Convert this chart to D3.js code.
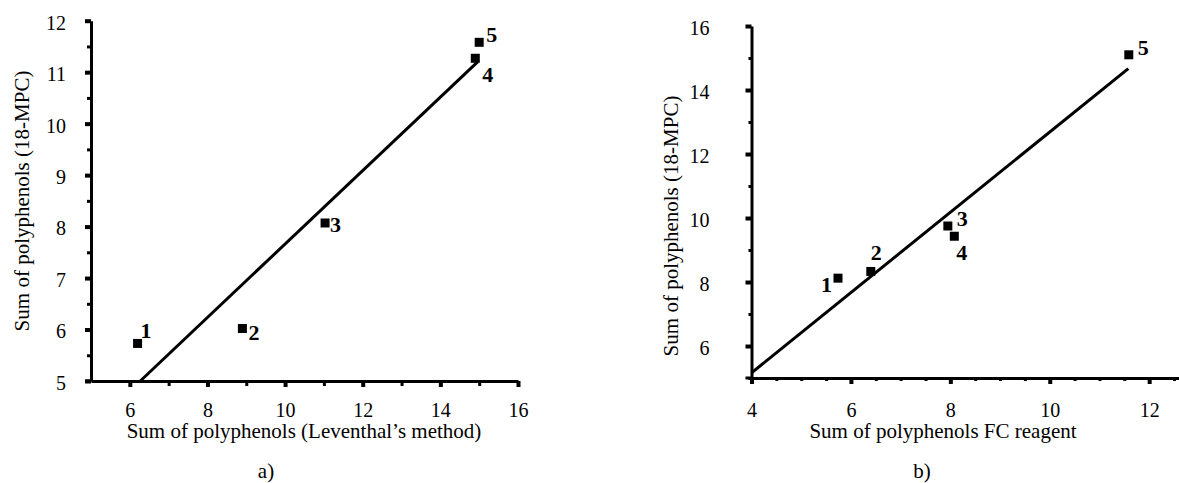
<!DOCTYPE html>
<html>
<head>
<meta charset="utf-8">
<script src="https://cdn.jsdelivr.net/npm/d3@7"></script>
<style>
  body { margin: 0; background: #fff; }
  svg { display: block; }
  text { font-family: "Liberation Serif", "Times New Roman", serif; fill: #000; }
</style>
</head>
<body>
<div id="chart"></div>
<script>
// ========== Data ==========
const pointNames = ["1", "2", "3", "4", "5"];

// panel a) Leventhal's method vs 18-MPC
const xA = [6.2, 8.9, 11.03, 14.9, 15.0];
const yA = [5.73, 6.02, 8.07, 11.27, 11.58];
const fitXA = [6.27, 14.96];
const fitYA = [5.0, 11.2];
const xTicksA = [6, 8, 10, 12, 14, 16];
const xMinorA = [7, 9, 11, 13, 15];
const yTicksA = [5, 6, 7, 8, 9, 10, 11, 12];
const yMinorA = [5.5, 6.5, 7.5, 8.5, 9.5, 10.5, 11.5];

// panel b) FC reagent vs 18-MPC
const xB = [5.74, 6.40, 7.95, 8.08, 11.59];
const yB = [8.12, 8.33, 9.75, 9.43, 15.1];
const fitXB = [4.0, 11.58];
const fitYB = [5.16, 14.67];
const xTicksB = [4, 6, 8, 10, 12];
const xMinorB = [4.5, 5, 5.5, 6.5, 7, 7.5, 8.5, 9, 9.5, 10.5, 11, 11.5, 12.5];
const yTicksB = [6, 8, 10, 12, 14, 16];
const yMinorB = [5, 7, 9, 11, 13, 15];

const svg = d3.select("#chart").append("svg")
    .attr("width", 1179)
    .attr("height", 483);

svg.append("rect").attr("width", 1179).attr("height", 483).attr("fill", "#fff");

const fmt = d3.format("d");

// ========== Panel drawing ==========
function drawPanel(p) {
    const x = d3.scaleLinear().domain(p.xDomain).range(p.xRange);
    const y = d3.scaleLinear().domain(p.yDomain).range(p.yRange);
    const g = svg.append("g");

    // minor ticks first (no labels)
    g.append("g")
        .attr("transform", `translate(0,${p.yRange[0]})`)
        .call(d3.axisBottom(x).tickValues(p.xMinor).tickSize(p.xMinorLen).tickSizeOuter(0).tickFormat(""))
        .call(a => a.select(".domain").remove())
        .call(a => a.selectAll(".tick line").attr("stroke-width", 3));

    g.append("g")
        .attr("transform", `translate(${p.xRange[0]},0)`)
        .call(d3.axisLeft(y).tickValues(p.yMinor).tickSize(p.yMinorLen).tickSizeOuter(0).tickFormat(""))
        .call(a => a.select(".domain").remove())
        .call(a => a.selectAll(".tick line").attr("stroke-width", 3));

    // major x axis
    g.append("g")
        .attr("transform", `translate(0,${p.yRange[0]})`)
        .call(d3.axisBottom(x).tickValues(p.xTicks).tickSize(6).tickSizeOuter(0).tickPadding(p.xPad).tickFormat(fmt))
        .call(a => a.select(".domain").attr("stroke-width", 3))
        .call(a => a.selectAll(".tick line").attr("stroke-width", 4))
        .call(a => a.selectAll(".tick text")
            .style("font-size", "20px")
            .style("font-family", "'Liberation Serif', serif"));

    // major y axis
    g.append("g")
        .attr("transform", `translate(${p.xRange[0]},0)`)
        .call(d3.axisLeft(y).tickValues(p.yTicks).tickSize(6).tickSizeOuter(0).tickPadding(p.yPad).tickFormat(fmt))
        .call(a => a.select(".domain").attr("stroke-width", 3))
        .call(a => a.selectAll(".tick line").attr("stroke-width", 4))
        .call(a => a.selectAll(".tick text")
            .attr("dy", "0.42em")
            .style("font-size", "20px")
            .style("font-family", "'Liberation Serif', serif"));

    // extend axis lines so the corner closes
    g.append("line")
        .attr("x1", p.xRange[0] - 6).attr("x2", p.xRange[0])
        .attr("y1", p.yRange[0]).attr("y2", p.yRange[0])
        .attr("stroke", "#000").attr("stroke-width", 3);

    // regression line
    const line = d3.line().x(d => x(d[0])).y(d => y(d[1]));
    g.append("path")
        .datum(d3.zip(p.fitX, p.fitY))
        .attr("d", line)
        .attr("fill", "none")
        .attr("stroke", "#000")
        .attr("stroke-width", 3);

    // points
    const pts = d3.zip(p.xs, p.ys, pointNames);
    g.selectAll(".pt")
        .data(pts)
        .enter().append("rect")
        .attr("class", "pt")
        .attr("x", d => x(d[0]) - 4.5)
        .attr("y", d => y(d[1]) - 4.5)
        .attr("width", 9)
        .attr("height", 9)
        .attr("fill", "#000");

    g.selectAll(".pl")
        .data(pts)
        .enter().append("text")
        .attr("class", "pl")
        .attr("x", (d, i) => x(d[0]) + p.labelOff[i][0])
        .attr("y", (d, i) => y(d[1]) + p.labelOff[i][1])
        .attr("text-anchor", (d, i) => p.labelOff[i][2] || "start")
        .style("font-size", "22px")
        .style("font-weight", "bold")
        .text(d => d[2]);

    // axis titles
    g.append("text")
        .attr("x", p.xTitlePos[0]).attr("y", p.xTitlePos[1])
        .attr("text-anchor", "middle")
        .style("font-size", "21px")
        .text(p.xTitle);

    g.append("text")
        .attr("transform", `translate(${p.yTitlePos[0]},${p.yTitlePos[1]}) rotate(-90)`)
        .attr("text-anchor", "middle")
        .style("font-size", "21px")
        .text(p.yTitle);

    g.append("text")
        .attr("x", p.tagPos[0]).attr("y", p.tagPos[1])
        .attr("text-anchor", "middle")
        .style("font-size", "21px")
        .text(p.tag);
}

drawPanel({
    xs: xA, ys: yA, fitX: fitXA, fitY: fitYA,
    xDomain: [5, 16], xRange: [91, 518],
    yDomain: [5, 12], yRange: [381, 20.7],
    xTicks: xTicksA, xMinor: xMinorA, xMinorLen: 5,
    yTicks: yTicksA, yMinor: yMinorA, yMinorLen: 4,
    xPad: 16, yPad: 19,
    labelOff: [[3, -5], [6, 12], [5, 9], [7, 24], [7, 0]],
    xTitle: "Sum of polyphenols (Leventhal\u2019s method)",
    xTitlePos: [304, 438],
    yTitle: "Sum of polyphenols (18-MPC)",
    yTitlePos: [29, 201],
    tag: "a)", tagPos: [266, 478]
});

drawPanel({
    xs: xB, ys: yB, fitX: fitXB, fitY: fitYB,
    xDomain: [4, 12.6], xRange: [751.5, 1179],
    yDomain: [5, 16], yRange: [378, 26],
    xTicks: xTicksB, xMinor: xMinorB, xMinorLen: 3,
    yTicks: yTicksB, yMinor: yMinorB, yMinorLen: 3,
    xPad: 19, yPad: 36,
    labelOff: [[-6, 14, "end"], [0, -11], [9, 0], [2, 24], [9, 0]],
    xTitle: "Sum of polyphenols FC reagent",
    xTitlePos: [943, 438],
    yTitle: "Sum of polyphenols (18-MPC)",
    yTitlePos: [678, 226],
    tag: "b)", tagPos: [922, 478]
});
</script>
</body>
</html>
